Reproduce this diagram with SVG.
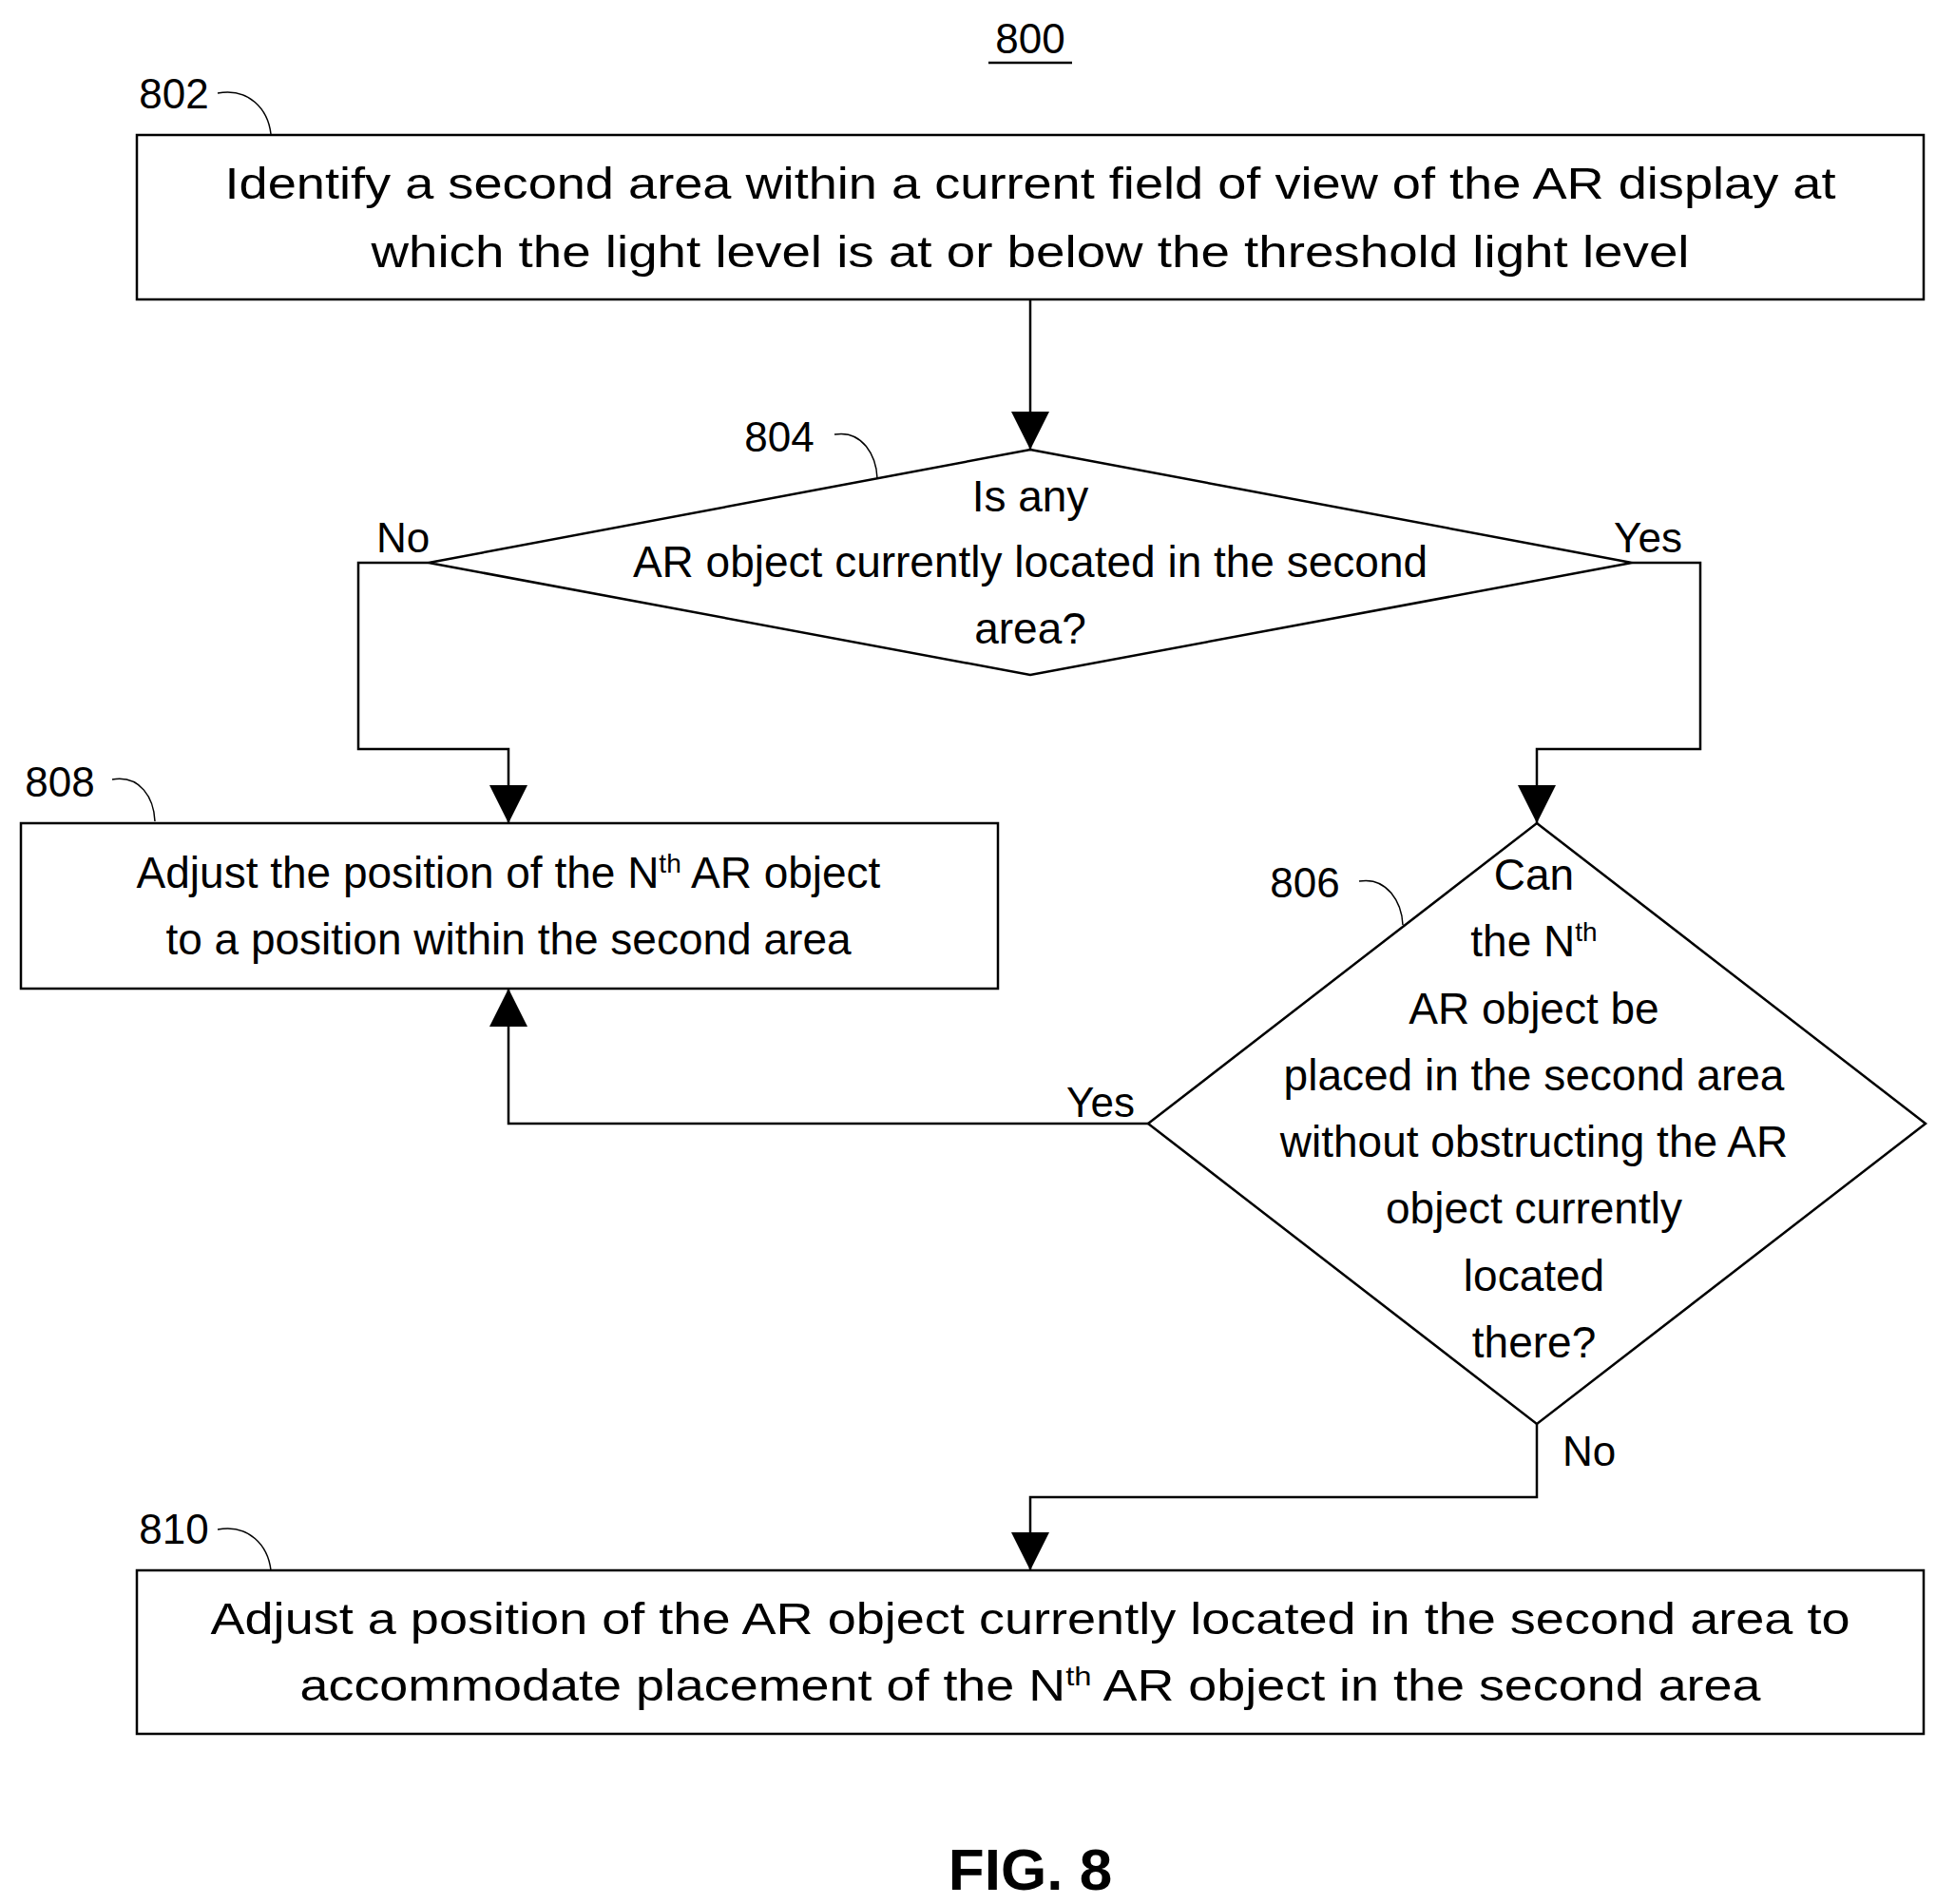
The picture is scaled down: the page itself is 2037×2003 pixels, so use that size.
<svg xmlns="http://www.w3.org/2000/svg" width="2037" height="2003" viewBox="0 0 2037 2003">
<style>
text{font-family:"Liberation Sans",Arial,sans-serif;font-size:46px;fill:#000;text-anchor:middle}
.lbl{font-size:44px}
.sh{fill:#fff;stroke:#000;stroke-width:2.5}
.ln{fill:none;stroke:#000;stroke-width:2.5}
.cv{fill:none;stroke:#000;stroke-width:1.5}
.sup{font-size:28px}
</style>
<defs>
<marker id="ah" markerWidth="20" markerHeight="20" refX="19" refY="10" orient="auto" markerUnits="userSpaceOnUse" viewBox="0 0 20 20">
<path d="M0,0 L20,10 L0,20 z" fill="#000"/>
</marker>
</defs>
<rect width="2037" height="2003" fill="#fff"/>
<text x="1084" y="56" class="lbl">800</text>
<line x1="1040" y1="66" x2="1128" y2="66" stroke="#000" stroke-width="2.5"/>
<g id="connectors">
<line class="ln" x1="1084" y1="315" x2="1084" y2="473"/>
<path class="ln" d="M451,592 H377 V788 H535 V866"/>
<path class="ln" d="M1717,592 H1789 V788 H1617 V866"/>
<path class="ln" d="M1208,1182 H535 V1040"/>
<path class="ln" d="M1617,1498 V1575 H1084 V1652"/>
<path d="M1064,433 L1104,433 L1084,473 z"/>
<path d="M515,826 L555,826 L535,866 z"/>
<path d="M1597,826 L1637,826 L1617,866 z"/>
<path d="M515,1080 L555,1080 L535,1040 z"/>
<path d="M1064,1612 L1104,1612 L1084,1652 z"/>
<text x="424" y="581" class="lbl">No</text>
<text x="1734" y="581" class="lbl">Yes</text>
<text x="1158" y="1175" class="lbl">Yes</text>
<text x="1672" y="1542" class="lbl">No</text>
</g>
<g id="n802">
<rect class="sh" x="144" y="142" width="1880" height="173"/>
<text x="1084" y="209" textLength="1695" lengthAdjust="spacingAndGlyphs">Identify a second area within a current field of view of the AR display at</text>
<text x="1084" y="281" textLength="1387" lengthAdjust="spacingAndGlyphs">which the light level is at or below the threshold light level</text>
<text x="183" y="114" class="lbl">802</text>
<path class="cv" d="M229,98 C262,92 282,115 285,141"/>
</g>
<g id="n804">
<polygon class="sh" points="1084,473 1717,592 1084,710 451,592"/>
<text x="1084" y="538">Is any</text>
<text x="1084" y="607">AR object currently located in the second</text>
<text x="1084" y="677">area?</text>
<text x="820" y="475" class="lbl">804</text>
<path class="cv" d="M878,457 C908,452 922,480 923,503"/>
</g>
<g id="n808">
<rect class="sh" x="22" y="866" width="1028" height="174"/>
<text x="535" y="934">Adjust the position of the N<tspan class="sup" dy="-16">th</tspan><tspan dy="16"> AR object</tspan></text>
<text x="535" y="1004">to a position within the second area</text>
<text x="63" y="838" class="lbl">808</text>
<path class="cv" d="M118,820 C148,815 162,840 163,864"/>
</g>
<g id="n806">
<polygon class="sh" points="1617,866 2026,1182 1617,1498 1208,1182"/>
<text x="1614" y="936">Can</text>
<text x="1614" y="1006">the N<tspan class="sup" dy="-16">th</tspan></text>
<text x="1614" y="1077">AR object be</text>
<text x="1614" y="1147">placed in the second area</text>
<text x="1614" y="1217">without obstructing the AR</text>
<text x="1614" y="1287">object currently</text>
<text x="1614" y="1358">located</text>
<text x="1614" y="1428">there?</text>
<text x="1373" y="944" class="lbl">806</text>
<path class="cv" d="M1430,927 C1460,922 1475,950 1476,973"/>
</g>
<g id="n810">
<rect class="sh" x="144" y="1652" width="1880" height="172"/>
<text x="1084" y="1719" textLength="1725" lengthAdjust="spacingAndGlyphs">Adjust a position of the AR object currently located in the second area to</text>
<text x="1084" y="1789" textLength="1537" lengthAdjust="spacingAndGlyphs">accommodate placement of the N<tspan class="sup" dy="-16">th</tspan><tspan dy="16"> AR object in the second area</tspan></text>
<text x="183" y="1624" class="lbl">810</text>
<path class="cv" d="M229,1609 C262,1603 282,1626 285,1652"/>
</g>
<text x="1084" y="1988" style="font-size:62px;font-weight:bold">FIG. 8</text>
</svg>
